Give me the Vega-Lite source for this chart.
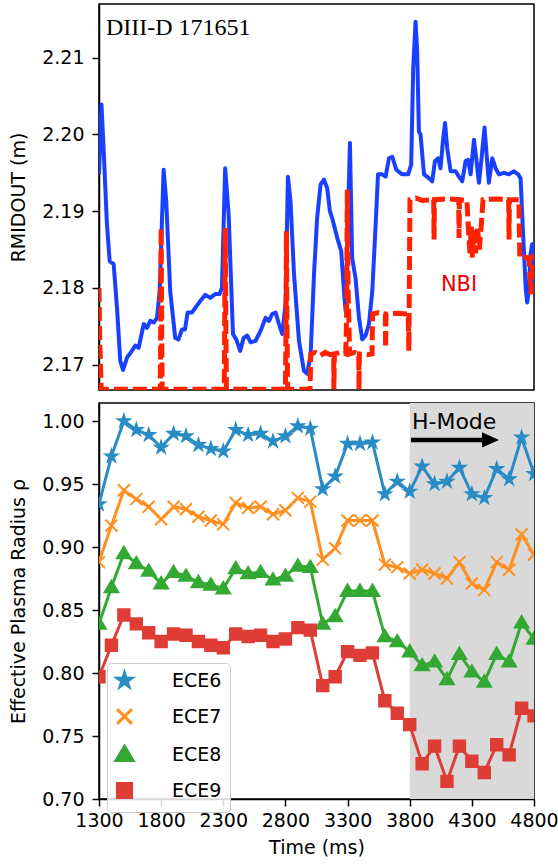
{
  "$schema": "https://vega.github.io/schema/vega-lite/v6.json",
  "padding": {"left": 8, "top": 3, "right": 0, "bottom": 5},
  "background": "white",
  "config": {
    "concat": {"spacing": 11},
    "view": {"stroke": "black", "strokeWidth": 1.5},
    "font": "DejaVu Sans",
    "axis": {
      "labelFont": "DejaVu Sans", "titleFont": "DejaVu Sans",
      "labelFontSize": 19, "titleFontSize": 19, "titleFontWeight": "normal",
      "labelColor": "black", "titleColor": "black",
      "tickColor": "black", "domainColor": "black", "tickSize": 7, "tickWidth": 1.5, "domainWidth": 1.5,
      "labelPadding": 8, "grid": false, "labelOverlap": false, "labelFlush": false
    }
  },
  "datasets": {
    "rmid": [
      {"t": 1300, "v": 2.1948}, {"t": 1320, "v": 2.2039}, {"t": 1338, "v": 2.1978}, {"t": 1364, "v": 2.1883},
      {"t": 1386, "v": 2.1835}, {"t": 1418, "v": 2.1831}, {"t": 1445, "v": 2.1774}, {"t": 1471, "v": 2.1705},
      {"t": 1493, "v": 2.1693}, {"t": 1525, "v": 2.1709}, {"t": 1565, "v": 2.1718}, {"t": 1592, "v": 2.1725},
      {"t": 1619, "v": 2.1722}, {"t": 1660, "v": 2.1753}, {"t": 1686, "v": 2.1748}, {"t": 1713, "v": 2.1757},
      {"t": 1740, "v": 2.1755}, {"t": 1767, "v": 2.1761}, {"t": 1788, "v": 2.1796}, {"t": 1820, "v": 2.1954},
      {"t": 1841, "v": 2.1913}, {"t": 1873, "v": 2.1796}, {"t": 1913, "v": 2.1735}, {"t": 1940, "v": 2.1733},
      {"t": 1968, "v": 2.1746}, {"t": 1992, "v": 2.1746}, {"t": 2013, "v": 2.1768}, {"t": 2048, "v": 2.1768},
      {"t": 2088, "v": 2.1777}, {"t": 2115, "v": 2.1783}, {"t": 2155, "v": 2.1791}, {"t": 2195, "v": 2.1787},
      {"t": 2235, "v": 2.1792}, {"t": 2270, "v": 2.1792}, {"t": 2289, "v": 2.18}, {"t": 2315, "v": 2.1956},
      {"t": 2343, "v": 2.1896}, {"t": 2378, "v": 2.174}, {"t": 2404, "v": 2.1733}, {"t": 2436, "v": 2.1718},
      {"t": 2464, "v": 2.1735}, {"t": 2493, "v": 2.1738}, {"t": 2520, "v": 2.1729}, {"t": 2560, "v": 2.1731},
      {"t": 2600, "v": 2.1744}, {"t": 2640, "v": 2.1761}, {"t": 2668, "v": 2.1757}, {"t": 2693, "v": 2.1766},
      {"t": 2721, "v": 2.1768}, {"t": 2748, "v": 2.1753}, {"t": 2774, "v": 2.174}, {"t": 2801, "v": 2.1779},
      {"t": 2820, "v": 2.1945}, {"t": 2841, "v": 2.1913}, {"t": 2869, "v": 2.1818}, {"t": 2909, "v": 2.1731},
      {"t": 2949, "v": 2.1692}, {"t": 2976, "v": 2.1688}, {"t": 3003, "v": 2.1714}, {"t": 3030, "v": 2.1818},
      {"t": 3055, "v": 2.1891}, {"t": 3083, "v": 2.1935}, {"t": 3110, "v": 2.1941}, {"t": 3136, "v": 2.193},
      {"t": 3158, "v": 2.19}, {"t": 3176, "v": 2.1891}, {"t": 3217, "v": 2.1865}, {"t": 3249, "v": 2.1848},
      {"t": 3271, "v": 2.1796}, {"t": 3284, "v": 2.177}, {"t": 3319, "v": 2.1989}, {"t": 3337, "v": 2.1839},
      {"t": 3364, "v": 2.1813}, {"t": 3392, "v": 2.1761}, {"t": 3418, "v": 2.1733}, {"t": 3445, "v": 2.1738},
      {"t": 3472, "v": 2.1753}, {"t": 3499, "v": 2.1796}, {"t": 3526, "v": 2.1883}, {"t": 3545, "v": 2.1948},
      {"t": 3578, "v": 2.1948}, {"t": 3606, "v": 2.1945}, {"t": 3633, "v": 2.1969}, {"t": 3660, "v": 2.1971},
      {"t": 3692, "v": 2.1954}, {"t": 3739, "v": 2.1948}, {"t": 3788, "v": 2.1948}, {"t": 3812, "v": 2.1961},
      {"t": 3828, "v": 2.2086}, {"t": 3847, "v": 2.2147}, {"t": 3860, "v": 2.2108}, {"t": 3874, "v": 2.2004},
      {"t": 3887, "v": 2.2}, {"t": 3915, "v": 2.1948}, {"t": 3955, "v": 2.1943}, {"t": 3981, "v": 2.1939},
      {"t": 4003, "v": 2.1965}, {"t": 4029, "v": 2.1969}, {"t": 4048, "v": 2.1956}, {"t": 4067, "v": 2.1991},
      {"t": 4084, "v": 2.2015}, {"t": 4102, "v": 2.1982}, {"t": 4129, "v": 2.1952}, {"t": 4169, "v": 2.1952},
      {"t": 4196, "v": 2.1945}, {"t": 4223, "v": 2.1939}, {"t": 4249, "v": 2.1965}, {"t": 4270, "v": 2.1967},
      {"t": 4290, "v": 2.1948}, {"t": 4317, "v": 2.1993}, {"t": 4335, "v": 2.1969}, {"t": 4357, "v": 2.1937},
      {"t": 4378, "v": 2.1969}, {"t": 4402, "v": 2.2009}, {"t": 4423, "v": 2.1965}, {"t": 4437, "v": 2.1937},
      {"t": 4464, "v": 2.1969}, {"t": 4491, "v": 2.1956}, {"t": 4518, "v": 2.1948}, {"t": 4558, "v": 2.195},
      {"t": 4598, "v": 2.1948}, {"t": 4639, "v": 2.1952}, {"t": 4673, "v": 2.1948}, {"t": 4692, "v": 2.1943},
      {"t": 4705, "v": 2.1896}, {"t": 4719, "v": 2.1848}, {"t": 4733, "v": 2.18}, {"t": 4745, "v": 2.1781},
      {"t": 4759, "v": 2.1796}, {"t": 4772, "v": 2.1844}, {"t": 4785, "v": 2.1857}, {"t": 4800, "v": 2.1796}
    ],
    "nbi": [
      {"t": 1300, "v": 2.18}, {"t": 1306, "v": 2.1727}, {"t": 1312, "v": 2.17}, {"t": 1318, "v": 2.1668},
      {"t": 1793, "v": 2.1668}, {"t": 1797, "v": 2.176}, {"t": 1800, "v": 2.1878}, {"t": 1803, "v": 2.179}, {"t": 1808, "v": 2.1668},
      {"t": 2308, "v": 2.1668}, {"t": 2312, "v": 2.177}, {"t": 2316, "v": 2.1878}, {"t": 2320, "v": 2.176}, {"t": 2325, "v": 2.1668},
      {"t": 2800, "v": 2.1668}, {"t": 2805, "v": 2.176}, {"t": 2808, "v": 2.1874}, {"t": 2812, "v": 2.176}, {"t": 2818, "v": 2.1668},
      {"t": 2998, "v": 2.1668}, {"t": 3004, "v": 2.1714}, {"t": 3040, "v": 2.1716}, {"t": 3080, "v": 2.1712}, {"t": 3120, "v": 2.1716},
      {"t": 3160, "v": 2.1713}, {"t": 3188, "v": 2.1714}, {"t": 3190, "v": 2.1668}, {"t": 3194, "v": 2.1714}, {"t": 3240, "v": 2.1716},
      {"t": 3285, "v": 2.1714}, {"t": 3292, "v": 2.176}, {"t": 3298, "v": 2.1928}, {"t": 3304, "v": 2.18}, {"t": 3310, "v": 2.1761},
      {"t": 3316, "v": 2.1714}, {"t": 3360, "v": 2.1716}, {"t": 3390, "v": 2.1714}, {"t": 3392, "v": 2.1668}, {"t": 3395, "v": 2.1714},
      {"t": 3460, "v": 2.1713}, {"t": 3497, "v": 2.1714}, {"t": 3501, "v": 2.1766}, {"t": 3550, "v": 2.1768}, {"t": 3604, "v": 2.1766},
      {"t": 3606, "v": 2.1722}, {"t": 3609, "v": 2.1766}, {"t": 3700, "v": 2.1767}, {"t": 3788, "v": 2.1766}, {"t": 3793, "v": 2.1718},
      {"t": 3797, "v": 2.18}, {"t": 3802, "v": 2.1915}, {"t": 3850, "v": 2.1917}, {"t": 3900, "v": 2.1914}, {"t": 3993, "v": 2.1915},
      {"t": 3996, "v": 2.1863}, {"t": 3999, "v": 2.1915}, {"t": 4100, "v": 2.1916}, {"t": 4194, "v": 2.1915}, {"t": 4197, "v": 2.1865},
      {"t": 4200, "v": 2.1915}, {"t": 4260, "v": 2.1914}, {"t": 4275, "v": 2.187}, {"t": 4285, "v": 2.1845}, {"t": 4295, "v": 2.188},
      {"t": 4305, "v": 2.1839}, {"t": 4315, "v": 2.1875}, {"t": 4330, "v": 2.1845}, {"t": 4345, "v": 2.188}, {"t": 4360, "v": 2.185},
      {"t": 4375, "v": 2.188}, {"t": 4390, "v": 2.1915}, {"t": 4500, "v": 2.1916}, {"t": 4596, "v": 2.1915}, {"t": 4599, "v": 2.1863},
      {"t": 4602, "v": 2.1915}, {"t": 4678, "v": 2.1915}, {"t": 4686, "v": 2.1839}, {"t": 4740, "v": 2.184}, {"t": 4760, "v": 2.1838},
      {"t": 4775, "v": 2.1792}, {"t": 4790, "v": 2.184}, {"t": 4800, "v": 2.1839}
    ],
    "ece": [
      {"t": 1300, "s": "ECE6", "v": 0.934}, {"t": 1400, "s": "ECE6", "v": 0.972}, {"t": 1500, "s": "ECE6", "v": 1.0}, {"t": 1600, "s": "ECE6", "v": 0.993},
      {"t": 1700, "s": "ECE6", "v": 0.989}, {"t": 1800, "s": "ECE6", "v": 0.979}, {"t": 1900, "s": "ECE6", "v": 0.99}, {"t": 2000, "s": "ECE6", "v": 0.988},
      {"t": 2100, "s": "ECE6", "v": 0.981}, {"t": 2200, "s": "ECE6", "v": 0.978}, {"t": 2300, "s": "ECE6", "v": 0.976}, {"t": 2400, "s": "ECE6", "v": 0.993},
      {"t": 2500, "s": "ECE6", "v": 0.989}, {"t": 2600, "s": "ECE6", "v": 0.99}, {"t": 2700, "s": "ECE6", "v": 0.984}, {"t": 2800, "s": "ECE6", "v": 0.988},
      {"t": 2900, "s": "ECE6", "v": 0.996}, {"t": 3000, "s": "ECE6", "v": 0.994}, {"t": 3100, "s": "ECE6", "v": 0.946}, {"t": 3200, "s": "ECE6", "v": 0.956},
      {"t": 3300, "s": "ECE6", "v": 0.982}, {"t": 3400, "s": "ECE6", "v": 0.982}, {"t": 3500, "s": "ECE6", "v": 0.983}, {"t": 3600, "s": "ECE6", "v": 0.942},
      {"t": 3700, "s": "ECE6", "v": 0.952}, {"t": 3800, "s": "ECE6", "v": 0.944}, {"t": 3900, "s": "ECE6", "v": 0.964}, {"t": 4000, "s": "ECE6", "v": 0.95},
      {"t": 4100, "s": "ECE6", "v": 0.952}, {"t": 4200, "s": "ECE6", "v": 0.963}, {"t": 4300, "s": "ECE6", "v": 0.942}, {"t": 4400, "s": "ECE6", "v": 0.939},
      {"t": 4500, "s": "ECE6", "v": 0.962}, {"t": 4600, "s": "ECE6", "v": 0.954}, {"t": 4700, "s": "ECE6", "v": 0.987}, {"t": 4800, "s": "ECE6", "v": 0.958},
      {"t": 1300, "s": "ECE7", "v": 0.888}, {"t": 1400, "s": "ECE7", "v": 0.917}, {"t": 1500, "s": "ECE7", "v": 0.945}, {"t": 1600, "s": "ECE7", "v": 0.938},
      {"t": 1700, "s": "ECE7", "v": 0.932}, {"t": 1800, "s": "ECE7", "v": 0.922}, {"t": 1900, "s": "ECE7", "v": 0.932}, {"t": 2000, "s": "ECE7", "v": 0.93},
      {"t": 2100, "s": "ECE7", "v": 0.924}, {"t": 2200, "s": "ECE7", "v": 0.921}, {"t": 2300, "s": "ECE7", "v": 0.918}, {"t": 2400, "s": "ECE7", "v": 0.935},
      {"t": 2500, "s": "ECE7", "v": 0.931}, {"t": 2600, "s": "ECE7", "v": 0.932}, {"t": 2700, "s": "ECE7", "v": 0.926}, {"t": 2800, "s": "ECE7", "v": 0.929},
      {"t": 2900, "s": "ECE7", "v": 0.939}, {"t": 3000, "s": "ECE7", "v": 0.936}, {"t": 3100, "s": "ECE7", "v": 0.89}, {"t": 3200, "s": "ECE7", "v": 0.899},
      {"t": 3300, "s": "ECE7", "v": 0.921}, {"t": 3400, "s": "ECE7", "v": 0.921}, {"t": 3500, "s": "ECE7", "v": 0.921}, {"t": 3600, "s": "ECE7", "v": 0.886},
      {"t": 3700, "s": "ECE7", "v": 0.884}, {"t": 3800, "s": "ECE7", "v": 0.879}, {"t": 3900, "s": "ECE7", "v": 0.882}, {"t": 4000, "s": "ECE7", "v": 0.879},
      {"t": 4100, "s": "ECE7", "v": 0.875}, {"t": 4200, "s": "ECE7", "v": 0.888}, {"t": 4300, "s": "ECE7", "v": 0.871}, {"t": 4400, "s": "ECE7", "v": 0.866},
      {"t": 4500, "s": "ECE7", "v": 0.888}, {"t": 4600, "s": "ECE7", "v": 0.882}, {"t": 4700, "s": "ECE7", "v": 0.91}, {"t": 4800, "s": "ECE7", "v": 0.894},
      {"t": 1300, "s": "ECE8", "v": 0.839}, {"t": 1400, "s": "ECE8", "v": 0.868}, {"t": 1500, "s": "ECE8", "v": 0.895}, {"t": 1600, "s": "ECE8", "v": 0.887},
      {"t": 1700, "s": "ECE8", "v": 0.881}, {"t": 1800, "s": "ECE8", "v": 0.871}, {"t": 1900, "s": "ECE8", "v": 0.88}, {"t": 2000, "s": "ECE8", "v": 0.877},
      {"t": 2100, "s": "ECE8", "v": 0.872}, {"t": 2200, "s": "ECE8", "v": 0.87}, {"t": 2300, "s": "ECE8", "v": 0.867}, {"t": 2400, "s": "ECE8", "v": 0.883},
      {"t": 2500, "s": "ECE8", "v": 0.879}, {"t": 2600, "s": "ECE8", "v": 0.88}, {"t": 2700, "s": "ECE8", "v": 0.874}, {"t": 2800, "s": "ECE8", "v": 0.877},
      {"t": 2900, "s": "ECE8", "v": 0.885}, {"t": 3000, "s": "ECE8", "v": 0.884}, {"t": 3100, "s": "ECE8", "v": 0.839}, {"t": 3200, "s": "ECE8", "v": 0.845},
      {"t": 3300, "s": "ECE8", "v": 0.865}, {"t": 3400, "s": "ECE8", "v": 0.865}, {"t": 3500, "s": "ECE8", "v": 0.865}, {"t": 3600, "s": "ECE8", "v": 0.829},
      {"t": 3700, "s": "ECE8", "v": 0.825}, {"t": 3800, "s": "ECE8", "v": 0.817}, {"t": 3900, "s": "ECE8", "v": 0.806}, {"t": 4000, "s": "ECE8", "v": 0.809},
      {"t": 4100, "s": "ECE8", "v": 0.795}, {"t": 4200, "s": "ECE8", "v": 0.815}, {"t": 4300, "s": "ECE8", "v": 0.801}, {"t": 4400, "s": "ECE8", "v": 0.793},
      {"t": 4500, "s": "ECE8", "v": 0.815}, {"t": 4600, "s": "ECE8", "v": 0.809}, {"t": 4700, "s": "ECE8", "v": 0.84}, {"t": 4800, "s": "ECE8", "v": 0.827},
      {"t": 1300, "s": "ECE9", "v": 0.797}, {"t": 1400, "s": "ECE9", "v": 0.822}, {"t": 1500, "s": "ECE9", "v": 0.846}, {"t": 1600, "s": "ECE9", "v": 0.839},
      {"t": 1700, "s": "ECE9", "v": 0.832}, {"t": 1800, "s": "ECE9", "v": 0.825}, {"t": 1900, "s": "ECE9", "v": 0.831}, {"t": 2000, "s": "ECE9", "v": 0.83},
      {"t": 2100, "s": "ECE9", "v": 0.825}, {"t": 2200, "s": "ECE9", "v": 0.822}, {"t": 2300, "s": "ECE9", "v": 0.82}, {"t": 2400, "s": "ECE9", "v": 0.831},
      {"t": 2500, "s": "ECE9", "v": 0.829}, {"t": 2600, "s": "ECE9", "v": 0.83}, {"t": 2700, "s": "ECE9", "v": 0.825}, {"t": 2800, "s": "ECE9", "v": 0.827},
      {"t": 2900, "s": "ECE9", "v": 0.836}, {"t": 3000, "s": "ECE9", "v": 0.834}, {"t": 3100, "s": "ECE9", "v": 0.79}, {"t": 3200, "s": "ECE9", "v": 0.797},
      {"t": 3300, "s": "ECE9", "v": 0.817}, {"t": 3400, "s": "ECE9", "v": 0.814}, {"t": 3500, "s": "ECE9", "v": 0.816}, {"t": 3600, "s": "ECE9", "v": 0.778},
      {"t": 3700, "s": "ECE9", "v": 0.768}, {"t": 3800, "s": "ECE9", "v": 0.759}, {"t": 3900, "s": "ECE9", "v": 0.728}, {"t": 4000, "s": "ECE9", "v": 0.742},
      {"t": 4100, "s": "ECE9", "v": 0.714}, {"t": 4200, "s": "ECE9", "v": 0.742}, {"t": 4300, "s": "ECE9", "v": 0.73}, {"t": 4400, "s": "ECE9", "v": 0.721},
      {"t": 4500, "s": "ECE9", "v": 0.743}, {"t": 4600, "s": "ECE9", "v": 0.735}, {"t": 4700, "s": "ECE9", "v": 0.772}, {"t": 4800, "s": "ECE9", "v": 0.766}
    ]
  },
  "vconcat": [
    {
      "width": 435,
      "height": 386,
      "layer": [
        {
          "data": {"name": "rmid"},
          "mark": {"type": "line", "color": "#1a40ff", "strokeWidth": 4, "clip": true, "strokeJoin": "round"},
          "encoding": {
            "x": {"field": "t", "type": "quantitative", "scale": {"domain": [1300, 4800], "nice": false, "zero": false}, "axis": null},
            "y": {"field": "v", "type": "quantitative", "scale": {"domain": [2.1667, 2.217], "nice": false, "zero": false},
                  "axis": {"title": "RMIDOUT (m)", "values": [2.17, 2.18, 2.19, 2.2, 2.21], "format": ".2f", "titlePadding": 13}}
          }
        },
        {
          "data": {"name": "nbi"},
          "mark": {"type": "line", "color": "#ff2200", "strokeWidth": 5, "strokeDash": [14, 5], "clip": true},
          "encoding": {
            "x": {"field": "t", "type": "quantitative"},
            "y": {"field": "v", "type": "quantitative"}
          }
        },
        {
          "data": {"values": [{"t": 1356, "v": 2.213, "label": "DIII-D 171651"}]},
          "mark": {"type": "text", "font": "Liberation Serif", "fontSize": 24, "align": "left", "baseline": "alphabetic", "color": "black"},
          "encoding": {
            "x": {"field": "t", "type": "quantitative"},
            "y": {"field": "v", "type": "quantitative"},
            "text": {"field": "label"}
          }
        },
        {
          "data": {"values": [{"t": 4051, "v": 2.1796, "label": "NBI"}]},
          "mark": {"type": "text", "font": "DejaVu Sans", "fontSize": 21, "align": "left", "baseline": "alphabetic", "color": "#ee0000"},
          "encoding": {
            "x": {"field": "t", "type": "quantitative"},
            "y": {"field": "v", "type": "quantitative"},
            "text": {"field": "label"}
          }
        }
      ]
    },
    {
      "width": 435,
      "height": 396,
      "layer": [
        {
          "data": {"values": [{"start": 3800, "end": 4800}]},
          "mark": {"type": "rect", "color": "#d9d9d9"},
          "encoding": {
            "x": {"field": "start", "type": "quantitative", "scale": {"domain": [1300, 4800], "nice": false, "zero": false},
                  "axis": {"title": "Time (ms)", "values": [1300, 1800, 2300, 2800, 3300, 3800, 4300, 4800], "format": "d", "titlePadding": 8, "labelPadding": 5}},
            "x2": {"field": "end"}
          }
        },
        {
          "data": {"name": "ece"},
          "mark": {"type": "line", "strokeWidth": 3, "clip": true},
          "encoding": {
            "x": {"field": "t", "type": "quantitative"},
            "y": {"field": "v", "type": "quantitative", "scale": {"domain": [0.7, 1.0143], "nice": false, "zero": false},
                  "axis": {"title": "Effective Plasma Radius ρ", "values": [0.7, 0.75, 0.8, 0.85, 0.9, 0.95, 1.0], "format": ".2f", "titlePadding": 13}},
            "color": {"field": "s", "type": "nominal",
                      "scale": {"domain": ["ECE6", "ECE7", "ECE8", "ECE9"], "range": ["#2a8cc4", "#ff8f1f", "#33a933", "#de3d35"]},
                      "legend": {
                        "title": null, "orient": "none", "legendX": 8, "legendY": 659, "direction": "vertical",
                        "fillColor": "rgba(255,255,255,0.85)", "strokeColor": "#cccccc", "cornerRadius": 4, "padding": 8,
                        "rowPadding": 10, "labelFontSize": 19, "labelFont": "DejaVu Sans", "labelColor": "black",
                        "symbolSize": 200, "symbolStrokeWidth": 3, "labelOffset": 38
                      }}
          }
        },
        {
          "data": {"name": "ece"},
          "mark": {"type": "point", "filled": true, "size": 130, "strokeWidth": 2, "opacity": 1, "clip": true},
          "encoding": {
            "x": {"field": "t", "type": "quantitative"},
            "y": {"field": "v", "type": "quantitative"},
            "color": {"field": "s", "type": "nominal"},
            "stroke": {"field": "s", "type": "nominal", "scale": {"domain": ["ECE6", "ECE7", "ECE8", "ECE9"], "range": ["#2a8cc4", "#ff8f1f", "#33a933", "#de3d35"]}, "legend": null},
            "shape": {"field": "s", "type": "nominal", "legend": null,
                      "scale": {"domain": ["ECE6", "ECE7", "ECE8", "ECE9"],
                                "range": ["M0,-1.05L0.236,-0.324L0.999,-0.324L0.381,0.124L0.617,0.849L0,0.401L-0.617,0.849L-0.381,0.124L-0.999,-0.324L-0.236,-0.324Z",
                                          "M-1.05,-1.05L1.05,1.05M-1.05,1.05L1.05,-1.05",
                                          "M0,-1.15L1.2,0.85L-1.2,0.85Z",
                                          "M-1,-1H1V1H-1Z"]}}
          }
        },
        {
          "data": {"values": [{"t1": 3810, "t2": 4400, "v": 0.985}]},
          "mark": {"type": "rule", "color": "black", "strokeWidth": 4.5},
          "encoding": {
            "x": {"field": "t1", "type": "quantitative"},
            "x2": {"field": "t2"},
            "y": {"field": "v", "type": "quantitative"}
          }
        },
        {
          "data": {"values": [{"t": 4450, "v": 0.985}]},
          "mark": {"type": "point", "shape": "M1,0L-1,-0.9L-1,0.9Z", "size": 289, "filled": true, "color": "black", "opacity": 1},
          "encoding": {
            "x": {"field": "t", "type": "quantitative"},
            "y": {"field": "v", "type": "quantitative"}
          }
        },
        {
          "data": {"values": [{"t": 3818, "v": 0.9937, "label": "H-Mode"}]},
          "mark": {"type": "text", "font": "DejaVu Sans", "fontSize": 22, "align": "left", "baseline": "alphabetic", "color": "black"},
          "encoding": {
            "x": {"field": "t", "type": "quantitative"},
            "y": {"field": "v", "type": "quantitative"},
            "text": {"field": "label"}
          }
        }
      ]
    }
  ]
}
